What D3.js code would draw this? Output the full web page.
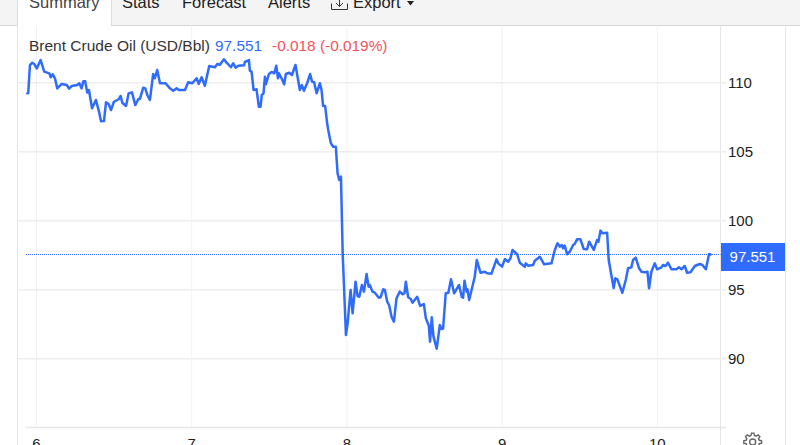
<!DOCTYPE html>
<html><head><meta charset="utf-8">
<script src="https://cdnjs.cloudflare.com/ajax/libs/d3/7.8.5/d3.min.js"></script>
<style>
html,body{margin:0;padding:0;background:#fff;overflow:hidden}
svg{display:block}
text{font-family:"Liberation Sans",Arial,Helvetica,sans-serif}
</style></head><body>
<svg id="c" width="800" height="445"></svg>
<script>
const tabs = ["Summary","Stats","Forecast","Alerts","Export"];
const titleName = "Brent Crude Oil (USD/Bbl)";
const lastLabel = "97.551";
const changeLabel = "-0.018 (-0.019%)";
const lastPrice = 97.551;
const dayTicks = [6,7,8,9,10];
const priceTicks = [90,95,100,105,110];
const days = [5.944,5.950,5.961,5.976,5.989,6.005,6.030,6.053,6.086,6.095,6.108,6.122,6.137,6.166,6.198,6.213,6.230,6.266,6.279,6.294,6.305,6.317,6.330,6.341,6.361,6.386,6.406,6.419,6.438,6.451,6.468,6.483,6.502,6.533,6.545,6.556,6.580,6.597,6.618,6.640,6.659,6.670,6.691,6.704,6.717,6.734,6.755,6.766,6.781,6.799,6.835,6.863,6.884,6.906,6.921,6.960,6.981,7.007,7.035,7.048,7.067,7.088,7.116,7.153,7.168,7.185,7.211,7.228,7.256,7.271,7.286,7.303,7.340,7.346,7.372,7.378,7.389,7.402,7.421,7.436,7.447,7.455,7.466,7.475,7.481,7.501,7.518,7.535,7.548,7.559,7.565,7.582,7.599,7.610,7.631,7.649,7.672,7.700,7.713,7.726,7.747,7.766,7.779,7.792,7.808,7.829,7.840,7.850,7.863,7.876,7.883,7.900,7.915,7.932,7.943,7.954,7.965,7.976,7.997,8.008,8.027,8.040,8.059,8.072,8.083,8.100,8.113,8.130,8.143,8.151,8.168,8.183,8.209,8.220,8.237,8.248,8.263,8.275,8.291,8.306,8.323,8.344,8.362,8.374,8.383,8.398,8.415,8.426,8.456,8.475,8.499,8.512,8.531,8.539,8.550,8.561,8.582,8.602,8.613,8.623,8.640,8.657,8.674,8.694,8.726,8.743,8.752,8.761,8.774,8.780,8.791,8.827,8.840,8.864,8.892,8.907,8.935,8.967,8.978,9.003,9.021,9.042,9.057,9.070,9.100,9.117,9.150,9.156,9.171,9.203,9.214,9.246,9.274,9.321,9.343,9.360,9.375,9.388,9.396,9.407,9.422,9.439,9.461,9.471,9.486,9.508,9.529,9.551,9.564,9.594,9.615,9.624,9.637,9.650,9.680,9.690,9.722,9.733,9.746,9.778,9.800,9.815,9.836,9.847,9.864,9.886,9.901,9.922,9.940,9.950,9.965,9.987,10.002,10.030,10.040,10.056,10.072,10.094,10.127,10.143,10.159,10.180,10.195,10.217,10.245,10.277,10.294,10.316,10.337,10.346];
const prices = [109.23,109.25,111.28,111.45,111.35,111.04,111.64,110.80,110.68,110.39,110.61,110.32,109.59,109.91,109.83,109.57,109.76,109.83,109.96,109.59,110.10,110.10,109.28,109.47,108.15,108.75,107.90,107.20,107.22,108.58,108.46,108.02,108.62,108.80,109.04,108.55,108.31,109.23,109.30,108.38,108.80,108.84,109.64,109.59,109.11,108.75,110.63,110.32,110.92,109.96,109.96,109.59,109.42,109.59,109.47,109.47,110.03,109.96,110.32,109.91,110.39,109.78,111.21,111.12,111.36,111.30,111.70,111.45,111.12,111.41,111.09,111.23,111.26,111.50,111.64,110.87,110.80,109.47,109.52,108.26,108.26,109.11,109.23,110.43,109.88,110.63,110.78,110.68,111.23,110.32,110.68,110.32,109.88,110.63,110.72,110.56,111.28,109.47,109.83,109.42,109.96,110.63,110.07,110.03,109.23,109.96,109.47,108.31,108.31,107.06,106.57,105.61,105.36,105.36,103.44,102.95,103.19,97.66,91.72,92.57,94.98,93.29,95.58,94.54,94.49,95.34,94.86,96.14,95.22,95.34,94.86,94.78,94.42,94.45,95.03,94.98,94.13,93.89,93.04,92.68,94.38,94.86,94.67,94.74,95.58,94.45,94.33,94.06,94.49,93.82,93.96,92.93,92.39,91.23,93.00,91.60,90.73,92.44,92.15,92.20,94.74,94.78,95.75,94.74,95.34,94.49,94.42,95.65,94.86,95.03,94.25,95.94,97.15,96.23,96.30,96.19,96.16,97.20,96.91,96.67,97.22,97.03,97.28,97.88,97.57,96.96,96.67,96.91,96.74,96.79,97.10,97.39,96.84,96.91,97.88,98.36,98.12,98.24,98.00,98.19,97.57,97.75,98.24,98.31,98.65,98.65,97.95,97.93,98.48,97.88,98.60,98.48,99.28,99.09,99.13,97.15,95.12,95.83,95.75,94.78,95.70,96.55,96.62,97.15,97.32,96.55,96.30,96.26,96.30,95.10,96.30,96.91,96.48,96.62,96.79,96.72,96.96,96.48,96.48,96.62,96.48,96.72,96.23,96.26,96.72,96.86,96.79,96.48,97.59,97.551];

const svg = d3.select("#c");
const x = d3.scaleLinear().domain([6,10]).range([36,656.8]);
const y = d3.scaleLinear().domain([90,110]).range([358.7,82.7]);
const plot = {l:17.5, r:720.5, t:25.5, b:427.5};
const INK="#222222", BLUE="#2f6bff", RED="#f4525a", GRID="#eeeeee";

// tab bar
svg.append("rect").attr("x",0).attr("y",0).attr("width",800).attr("height",25).attr("fill","#f4f4f4");
svg.append("line").attr("x1",0).attr("x2",800).attr("y1",25.5).attr("y2",25.5).attr("stroke","#d6d6d6");
svg.append("rect").attr("x",18).attr("y",-2).attr("width",93).attr("height",28).attr("fill","#fff");
svg.append("path").attr("d","M17.5,0V26M111.5,0V25.5").attr("stroke","#dddddd").attr("fill","none");
const tabX=[29,122,182,268,353];
tabs.forEach((t,i)=>svg.append("text").attr("x",tabX[i]).attr("y",8).attr("font-size",16.5).attr("fill",i==0?"#444":INK).text(t));
svg.append("path").attr("d","M331.5,3.5V9.5H347.5V3.5M339.5,-1V6M336,3L339.5,6.5L343,3").attr("fill","none").attr("stroke","#333").attr("stroke-width",1);
svg.append("path").attr("d","M407,1H414L410.5,5.5Z").attr("fill",INK);

// frame
svg.append("path").attr("d",`M${plot.l},${plot.t}V445M${plot.r},${plot.t}V445M785.5,${plot.t}V445`).attr("stroke","#e6e6e6").attr("fill","none");

// x axis with grid
const xAxis = d3.axisBottom(x).tickValues(dayTicks).tickFormat(d3.format("d")).tickSize(-(plot.b-plot.t)).tickPadding(8);
const gx = svg.append("g").attr("transform",`translate(0,${plot.b})`).call(xAxis);
gx.select(".domain").remove();
gx.selectAll(".tick line").attr("stroke","#eff2f6");
gx.selectAll(".tick text").attr("fill",INK).attr("font-size",15).attr("font-family","Liberation Sans").attr("dy",0).attr("y",21);
svg.append("line").attr("x1",26).attr("x2",726).attr("y1",plot.b).attr("y2",plot.b).attr("stroke","#e6e6e6").attr("stroke-width",1.4);

// y axis with grid
const yAxis = d3.axisRight(y).tickValues(priceTicks).tickFormat(d3.format("d")).tickSize(0).tickPadding(0);
const gy = svg.append("g").attr("transform","translate(729,0)").call(yAxis);
gy.select(".domain").remove();
gy.selectAll(".tick text").attr("fill",INK).attr("font-size",15).attr("font-family","Liberation Sans").attr("x",-1);
svg.append("g").selectAll("line").data(priceTicks).join("line")
  .attr("x1",plot.l).attr("x2",726).attr("y1",d=>y(d)).attr("y2",d=>y(d)).attr("stroke",GRID).attr("stroke-width",1.5);

// last price line
const lastY = Math.floor(y(lastPrice))+0.5;
svg.append("line").attr("x1",26).attr("x2",plot.r).attr("y1",lastY).attr("y2",lastY)
  .attr("stroke",BLUE).attr("stroke-dasharray","1 1").attr("stroke-width",1);

// series
const line = d3.line().x((d,i)=>x(days[i])).y((d,i)=>y(prices[i]));
svg.append("path").datum(prices).attr("d",line).attr("fill","none").attr("stroke",BLUE).attr("stroke-width",2.5).attr("stroke-linejoin","round").attr("stroke-linecap","round");

// last tag
svg.append("rect").attr("x",721).attr("y",243).attr("width",64).attr("height",28).attr("fill",BLUE);
svg.append("text").attr("x",752.5).attr("y",262).attr("text-anchor","middle").attr("font-size",15).attr("fill","#fff").text(lastLabel);

// header
svg.append("text").attr("x",29).attr("y",51).attr("font-size",15.5).attr("fill","#333").text(titleName);
svg.append("text").attr("x",215).attr("y",51).attr("font-size",15.4).attr("fill",BLUE).text(lastLabel);
svg.append("text").attr("x",272).attr("y",51).attr("font-size",15.4).attr("fill",RED).text(changeLabel);

// gear
const teeth=8, R1=9, R2=6.8;
let pts=[];
for(let i=0;i<teeth;i++){const a=i/teeth*2*Math.PI-Math.PI/2,w=0.17;
  pts.push([a-w*1.5,R2],[a-w*0.8,R1],[a+w*0.8,R1],[a+w*1.5,R2]);}
const gear=d3.lineRadial().angle(d=>d[0]+Math.PI/2).radius(d=>d[1]).curve(d3.curveLinearClosed);
const g=svg.append("g").attr("transform","translate(752.7,442)");
g.append("path").attr("d",gear(pts)).attr("fill","none").attr("stroke","#666").attr("stroke-width",1.4);
g.append("circle").attr("r",3).attr("fill","none").attr("stroke","#666").attr("stroke-width",1.4);
</script>
</body></html>
